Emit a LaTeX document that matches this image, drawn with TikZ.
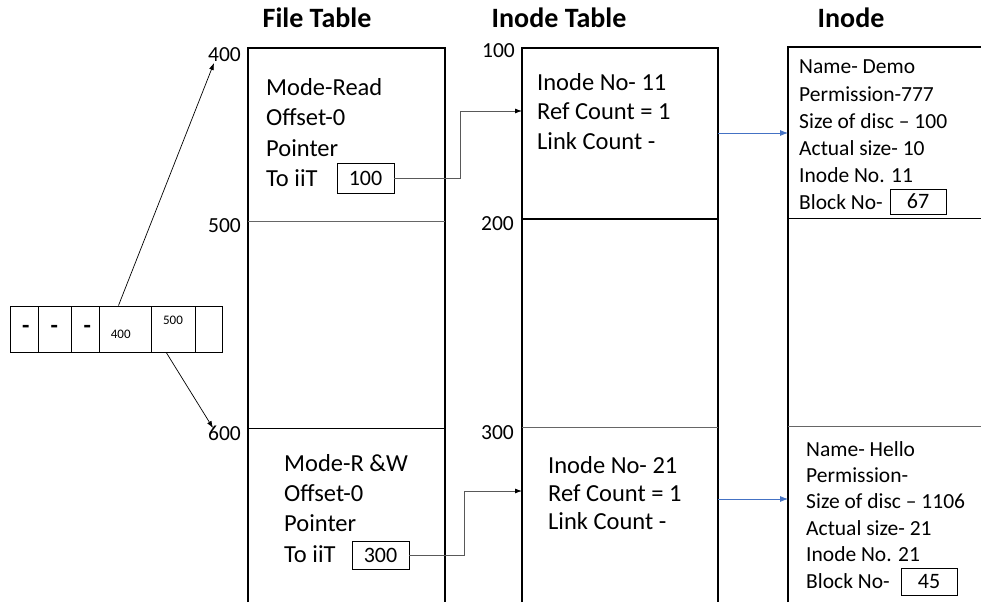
\documentclass[tikz,border=0pt]{standalone}
\usepackage{fontspec}
\setmainfont{Carlito}
\usetikzlibrary{arrows.meta}

\definecolor{officeblue}{HTML}{4472C4}

\tikzset{
  colline/.style={line width=1.6pt},
  rowline/.style={line width=0.8pt},
  heading/.style={font=\fontsize{28}{30}\selectfont\bfseries},
  bigtxt/.style={anchor=base west, inner sep=0pt, font=\fontsize{24.5}{28}\selectfont},
  smalltxt/.style={anchor=base west, inner sep=0pt, font=\fontsize{21.5}{24}\selectfont},
  addr/.style={anchor=base east, inner sep=0pt, font=\fontsize{21.5}{24}\selectfont},
  ptrbox/.style={draw, line width=0.9pt, inner sep=0pt, font=\fontsize{22}{24}\selectfont},
  cell/.style={draw, line width=1pt, inner sep=0pt, minimum height=46pt},
  dashmark/.style={font=\fontsize{24}{26}\selectfont\bfseries},
  link/.style={draw=black!65, line width=0.8pt, -{Latex[length=7pt,width=5pt,fill=black,color=black]}},
  bluelink/.style={draw=officeblue, line width=0.8pt, -{Latex[length=8pt,width=6pt]}}
}

\begin{document}
\begin{tikzpicture}[x=1pt, y=-1pt]
    \useasboundingbox (0,0) rectangle (981,602);

    % Headings
    \node[heading](hft) at (317, 18) {File Table};
    \node[heading](hit) at (559, 18) {Inode Table};
    \node[heading](hin) at (851, 18) {Inode};

    % Columns
    \draw[colline] (248, 602) -- (248, 48) -- (445, 48) -- (445, 602);
    \draw[colline] (522, 602) -- (522, 48) -- (718, 48) -- (718, 602);
    \draw[colline] (788, 602) -- (788, 47) -- (981, 47);

    % Row lines
    \draw[rowline, black!60] (248, 221) -- (445, 221);
    \draw[rowline] (248, 428) -- (445, 428);
    \draw[colline] (522, 219) -- (718, 219);
    \draw[rowline, black!60] (522, 427) -- (718, 427);
    \draw[rowline] (788, 218) -- (981, 218);
    \draw[rowline, black!60] (788, 426) -- (981, 426);

    % Addresses
    \node[addr](a400) at (241, 61) {400};
    \node[addr](a500) at (241, 232) {500};
    \node[addr](a600) at (241, 440) {600};
    \node[addr](a100) at (515, 58) {100};
    \node[addr](a200) at (514, 230) {200};
    \node[addr](a300) at (514, 439) {300};

    % File table entries
    \node[bigtxt](fa1) at (266, 95) {Mode-Read};
    \node[bigtxt](fa2) at (266, 125.5) {Offset-0};
    \node[bigtxt](fa3) at (266, 156) {Pointer};
    \node[bigtxt](fa4) at (266, 186) {To iiT};
    \node[ptrbox, minimum width=57pt, minimum height=30pt](p1) at (365.5, 178) {100};

    \node[bigtxt](fb1) at (284, 471) {Mode-R \&W};
    \node[bigtxt](fb2) at (284, 501) {Offset-0};
    \node[bigtxt](fb3) at (284, 531) {Pointer};
    \node[bigtxt](fb4) at (284, 562) {To iiT};
    \node[ptrbox, minimum width=57pt, minimum height=28pt](p2) at (380.5, 555) {300};

    % Inode table entries
    \node[bigtxt](ia1) at (537, 90) {Inode No- 11};
    \node[bigtxt](ia2) at (537, 119.5) {Ref Count = 1};
    \node[bigtxt](ia3) at (537, 149.5) {Link Count -};

    \node[bigtxt](ib1) at (548, 473) {Inode No- 21};
    \node[bigtxt](ib2) at (548, 501) {Ref Count = 1};
    \node[bigtxt](ib3) at (548, 529) {Link Count -};

    % Inodes
    \node[smalltxt](na1) at (799, 74) {Name- Demo};
    \node[smalltxt](na2) at (799, 101.2) {Permission-777};
    \node[smalltxt](na3) at (799, 128.4) {Size of disc – 100};
    \node[smalltxt](na4) at (799, 155.6) {Actual size- 10};
    \node[smalltxt](na5) at (799, 182.8) {Inode No. 11};
    \node[smalltxt](na6) at (799, 209) {Block No-};
    \node[ptrbox, minimum width=56pt, minimum height=25pt](b1) at (918, 201.5) {67};

    \node[smalltxt](nb1) at (806, 456) {Name- Hello};
    \node[smalltxt](nb2) at (806, 482.4) {Permission-};
    \node[smalltxt](nb3) at (806, 508.8) {Size of disc – 1106};
    \node[smalltxt](nb4) at (806, 535.2) {Actual size- 21};
    \node[smalltxt](nb5) at (806, 561.6) {Inode No. 21};
    \node[smalltxt](nb6) at (806, 588) {Block No-};
    \node[ptrbox, minimum width=56pt, minimum height=27pt](b2) at (929, 581.5) {45};

    % Descriptor array
    \node[cell, minimum width=28.5pt](c1) at (24.25, 329) {};
    \node[cell, minimum width=32.5pt](c2) at (54.75, 329) {};
    \node[cell, minimum width=28.5pt](c3) at (85.25, 329) {};
    \node[cell, minimum width=52pt](c4) at (125.5, 329) {};
    \node[cell, minimum width=43.5pt](c5) at (173.25, 329) {};
    \node[cell, minimum width=27.5pt](c6) at (208.75, 329) {};
    \node[dashmark](d1) at (25.7, 329) {-};
    \node[dashmark](d2) at (54.3, 329) {-};
    \node[dashmark](d3) at (87.3, 329) {-};
    \node[font=\fontsize{13}{15}\selectfont](v400) at (120.7, 334) {400};
    \node[font=\fontsize{13}{15}\selectfont](v500) at (173, 320) {500};

    % Arrow ends
    \coordinate(t400) at (214, 63);
    \coordinate(t600) at (213, 428);
    \coordinate(itin1) at (522, 111);
    \coordinate(itin2) at (522, 491);
    \coordinate(itout1) at (718, 133);
    \coordinate(itout2) at (718, 499);
    \coordinate(inin1) at (788, 133);
    \coordinate(inin2) at (788, 499);

    % Arrows
    \draw[line width=0.7pt, -{Latex[length=7pt,width=5pt]}] ([xshift=-7pt]c4.north) -- (t400);
    \draw[line width=0.7pt, -{Latex[length=7pt,width=5pt]}] ([xshift=-7pt]c5.south) -- (t600);
    \draw[link] (p1.east) -- ++(66, 0) |- (itin1);
    \draw[link] (p2.east) -- ++(55, 0) |- (itin2);
    \draw[bluelink] (itout1) -- (inin1);
    \draw[bluelink] (itout2) -- (inin2);
  \end{tikzpicture}
\end{document}
